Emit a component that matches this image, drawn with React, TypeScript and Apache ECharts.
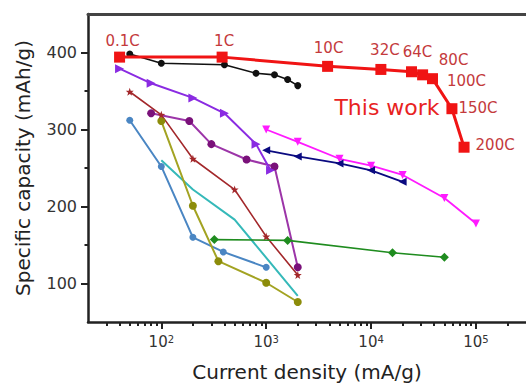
import React, { useEffect, useRef } from 'react';
import * as echarts from 'echarts';

const FONT = '"DejaVu Sans", "Liberation Sans", Arial, sans-serif';

// "This work" (red) — rate labels, current density (mA/g), capacity (mAh/g)
const redRates = ['0.1C', '1C', '10C', '32C', '64C', '80C', '100C', '150C', '200C'];
const redCurrent = [40, 380, 3850, 12400, 24300, 31000, 38500, 59000, 77000];
const redCapacity = [394, 394, 382, 378, 375, 371, 366, 327, 277];

// comparison series: [current density, capacity]
const blackPts = [[50, 398], [100, 386], [400, 384], [800, 373], [1200, 371], [1600, 365], [2000, 357]];
const violetPts = [[40, 379], [80, 360], [200, 341], [400, 321], [800, 281], [1100, 247]];
const purplePts = [[80, 321], [185, 311], [300, 281], [650, 261], [1200, 252], [2000, 121]];
const brownPts = [[50, 349], [100, 319], [200, 262], [500, 222], [1000, 161], [2000, 111]];
const olivePts = [[100, 311], [200, 201], [350, 129], [1000, 101], [2000, 76]];
const bluePts = [[50, 312], [100, 252], [200, 160], [390, 141], [1000, 121]];
const cyanPts = [[100, 260], [200, 222], [500, 183], [2000, 84]];
const greenPts = [[320, 157], [1600, 156], [16000, 140], [50000, 134]];
const magentaPts = [[1000, 300], [2000, 284], [5000, 262], [10000, 253], [20000, 241], [50000, 211], [100000, 178]];
const navyPts = [[1000, 273], [2000, 265], [5000, 256], [10000, 247], [20000, 232]];

// axis ticks
const xMajorTicks = [100, 1000, 10000, 100000];
const xMinorTicks = [
  30, 40, 50, 60, 70, 80, 90,
  200, 300, 400, 500, 600, 700, 800, 900,
  2000, 3000, 4000, 5000, 6000, 7000, 8000, 9000,
  20000, 30000, 40000, 50000, 60000, 70000, 80000, 90000,
  200000,
];
const yMajorTicks = [100, 200, 300, 400];
const yMinorTicks = [150, 250, 350];

const STAR = 'path://M0,-10L2.35,-3.24L9.51,-3.09L3.8,1.24L5.88,8.09L0,4L-5.88,8.09L-3.8,1.24L-9.51,-3.09L-2.35,-3.24Z';

// label placement for the red rate annotations
const redLabelLayout: any[] = [
  { position: 'top', offset: [3, 0] },
  { position: 'top', offset: [2, 0] },
  { position: 'top', offset: [1, -2] },
  { position: 'top', offset: [4, -3] },
  { position: 'top', offset: [6, -4] },
  { position: 'top', offset: [31, 1] },
  { position: 'right', offset: [6, 2] },
  { position: 'right', offset: [-2, -1] },
  { position: 'right', offset: [3, -2] },
];

function lineSeries(name: string, data: number[][], color: string, symbol: string, size: number, width: number, extra: any = {}) {
  return {
    name,
    type: 'line',
    data,
    symbol,
    symbolSize: size,
    showSymbol: symbol !== 'none',
    lineStyle: { color, width },
    itemStyle: { color },
    z: 3,
    ...extra,
  };
}

export default function App() {
  const ref = useRef<HTMLDivElement>(null);
  useEffect(() => {
    if (!ref.current) return;
    const chart = echarts.init(ref.current, null, { renderer: 'svg' });
    const axisCommon = { type: 'log', logBase: 10, min: 20, max: 300000 };
    const option: any = {
      animation: false,
      backgroundColor: '#fff',
      grid: { left: 88, right: -8, top: 14, bottom: 58.5 },
      xAxis: [
        {
          ...axisCommon,
          position: 'bottom',
          name: 'Current density (mA/g)',
          nameLocation: 'middle',
          nameGap: 40,
          nameTextStyle: { fontFamily: FONT, fontSize: 20, color: '#222' },
          axisLine: { show: true, onZero: false, lineStyle: { color: '#222', width: 2.5 } },
          axisTick: { show: true, inside: false, length: 7, customValues: xMajorTicks, lineStyle: { color: '#222', width: 2 } },
          minorTick: { show: false },
          splitLine: { show: false },
          axisLabel: {
            customValues: xMajorTicks,
            margin: 12,
            formatter: (v: number) => `{b|10}{s|${Math.round(Math.log10(v))}}`,
            rich: {
              b: { fontFamily: FONT, fontSize: 15, color: '#333' },
              s: { fontFamily: FONT, fontSize: 10, color: '#333', verticalAlign: 'top' },
            },
          },
        },
        {
          ...axisCommon,
          position: 'bottom',
          axisLine: { show: false, onZero: false },
          axisTick: { show: true, inside: false, length: 4, customValues: xMinorTicks, lineStyle: { color: '#222', width: 2 } },
          axisLabel: { show: false },
          splitLine: { show: false },
        },
        {
          ...axisCommon,
          position: 'top',
          axisLine: { show: true, onZero: false, lineStyle: { color: '#444', width: 3 } },
          axisTick: { show: false },
          axisLabel: { show: false },
          splitLine: { show: false },
        },
      ],
      yAxis: [
        {
          type: 'value',
          min: 50,
          max: 450,
          interval: 50,
          position: 'left',
          name: 'Specific capacity (mAh/g)',
          nameLocation: 'middle',
          nameRotate: 90,
          nameGap: 55,
          nameTextStyle: { fontFamily: FONT, fontSize: 20, color: '#222' },
          axisLine: { show: true, onZero: false, lineStyle: { color: '#222', width: 2.5 } },
          axisTick: { show: true, inside: false, length: 7, customValues: yMajorTicks, lineStyle: { color: '#222', width: 2 } },
          splitLine: { show: false },
          axisLabel: { customValues: yMajorTicks, margin: 11, fontFamily: FONT, fontSize: 16, color: '#333' },
        },
        {
          type: 'value',
          min: 50,
          max: 450,
          interval: 50,
          position: 'left',
          axisLine: { show: false, onZero: false },
          axisTick: { show: true, inside: false, length: 3.5, customValues: yMinorTicks, lineStyle: { color: '#222', width: 2 } },
          axisLabel: { show: false },
          splitLine: { show: false },
        },
      ],
      graphic: [
        {
          type: 'text',
          x: 387,
          y: 107,
          z: 10,
          style: {
            text: 'This work',
            align: 'center',
            verticalAlign: 'middle',
            fontFamily: FONT,
            fontSize: 22,
            fill: '#e8231f',
          },
        },
      ],
      series: [
        lineSeries('cyan', cyanPts, '#35b9b9', 'none', 0, 2),
        lineSeries('blue', bluePts, '#4a86c3', 'circle', 7, 2),
        lineSeries('olive', olivePts, '#a3a322', 'circle', 8, 2, { itemStyle: { color: '#8c8c0a' } }),
        lineSeries('brown', brownPts, '#a3282b', STAR, 8, 1.6),
        lineSeries('purple', purplePts, '#9c35a8', 'circle', 8, 2, { itemStyle: { color: '#7a117a' } }),
        lineSeries('violet', violetPts, '#8a2be2', 'triangle', 9, 2, { symbolRotate: -90 }),
        lineSeries('green', greenPts, '#1f8c1f', 'diamond', 9, 1.6),
        lineSeries('magenta', magentaPts, '#ff1aff', 'triangle', 8, 1.8, { symbolRotate: 180 }),
        lineSeries('navy', navyPts, '#0a0a80', 'triangle', 8, 1.8, { symbolRotate: 90 }),
        lineSeries('black', blackPts, '#111', 'circle', 7, 1.6),
        {
          name: 'This work',
          type: 'line',
          z: 5,
          symbol: 'rect',
          symbolSize: 11,
          lineStyle: { color: '#f01414', width: 3 },
          itemStyle: { color: '#f01414' },
          data: redCurrent.map((x, i) => ({
            value: [x, redCapacity[i]],
            label: { ...redLabelLayout[i] },
          })),
          label: {
            show: true,
            distance: 3,
            fontFamily: FONT,
            fontSize: 15,
            color: '#c43a3c',
            formatter: (p: any) => redRates[p.dataIndex],
          },
        },
      ],
    };
    chart.setOption(option);
    return () => chart.dispose();
  }, []);
  return <div ref={ref} style={{ position: 'fixed', left: 0, top: 0, width: 526, height: 387 }} />;
}
